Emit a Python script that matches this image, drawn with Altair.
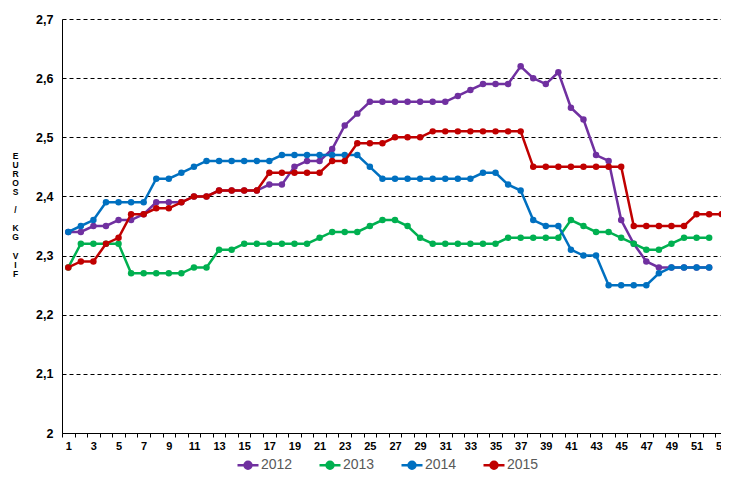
import altair as alt
import pandas as pd

weeks = list(range(1, 54))
years = ["2012", "2013", "2014", "2015"]
colors = ["#7030A0", "#00B050", "#0070C0", "#C00000"]

v2012 = [2.34, 2.34, 2.35, 2.35, 2.36, 2.36, 2.37, 2.39, 2.39, 2.39,
         2.40, 2.40, 2.41, 2.41, 2.41, 2.41, 2.42, 2.42, 2.45, 2.46,
         2.46, 2.48, 2.52, 2.54, 2.56, 2.56, 2.56, 2.56, 2.56, 2.56,
         2.56, 2.57, 2.58, 2.59, 2.59, 2.59, 2.62, 2.60, 2.59, 2.61,
         2.55, 2.53, 2.47, 2.46, 2.36, 2.32, 2.29, 2.28, 2.28, 2.28,
         2.28, 2.28, None]
v2013 = [2.28, 2.32, 2.32, 2.32, 2.32, 2.27, 2.27, 2.27, 2.27, 2.27,
         2.28, 2.28, 2.31, 2.31, 2.32, 2.32, 2.32, 2.32, 2.32, 2.32,
         2.33, 2.34, 2.34, 2.34, 2.35, 2.36, 2.36, 2.35, 2.33, 2.32,
         2.32, 2.32, 2.32, 2.32, 2.32, 2.33, 2.33, 2.33, 2.33, 2.33,
         2.36, 2.35, 2.34, 2.34, 2.33, 2.32, 2.31, 2.31, 2.32, 2.33,
         2.33, 2.33, None]
v2014 = [2.34, 2.35, 2.36, 2.39, 2.39, 2.39, 2.39, 2.43, 2.43, 2.44,
         2.45, 2.46, 2.46, 2.46, 2.46, 2.46, 2.46, 2.47, 2.47, 2.47,
         2.47, 2.47, 2.47, 2.47, 2.45, 2.43, 2.43, 2.43, 2.43, 2.43,
         2.43, 2.43, 2.43, 2.44, 2.44, 2.42, 2.41, 2.36, 2.35, 2.35,
         2.31, 2.30, 2.30, 2.25, 2.25, 2.25, 2.25, 2.27, 2.28, 2.28,
         2.28, 2.28, None]
v2015 = [2.28, 2.29, 2.29, 2.32, 2.33, 2.37, 2.37, 2.38, 2.38, 2.39,
         2.40, 2.40, 2.41, 2.41, 2.41, 2.41, 2.44, 2.44, 2.44, 2.44,
         2.44, 2.46, 2.46, 2.49, 2.49, 2.49, 2.50, 2.50, 2.50, 2.51,
         2.51, 2.51, 2.51, 2.51, 2.51, 2.51, 2.51, 2.45, 2.45, 2.45,
         2.45, 2.45, 2.45, 2.45, 2.45, 2.35, 2.35, 2.35, 2.35, 2.35,
         2.37, 2.37, 2.37]

y_ticks = [2.0, 2.1, 2.2, 2.3, 2.4, 2.5, 2.6, 2.7]
ZW = "\u200b"
y_title = ["E", "U", "R", "O", "S", ZW, "/", ZW, "K", "G", ZW, "V", "I", "F"]

rows = []
for yr, vals in zip(years, [v2012, v2013, v2014, v2015]):
    for w, v in zip(weeks, vals):
        if v is not None:
            rows.append({"week": w, "year": yr, "value": v})
df = pd.DataFrame(rows)

FONT = "Liberation Sans"
legend_symbol = "M-1,0H1M-0.33,0A0.33,0.33 0 1,1 0.33,0A0.33,0.33 0 1,1 -0.33,0Z"

x_enc = alt.X(
    "week:O",
    scale=alt.Scale(type="band", paddingInner=0, paddingOuter=0, domain=weeks, range=[0, 666]),
    axis=alt.Axis(
        title=None, labelAngle=0, labelExpr="datum.value % 2 == 1 ? datum.label : ''",
        tickBand="extent", ticks=True, tickSize=4, tickColor="black",
        domainColor="black", domainWidth=1, grid=False, labelOverlap=False,
        labelFont=FONT, labelFontWeight="bold", labelFontSize=11, labelColor="black",
        labelPadding=3,
    ),
)
y_enc = alt.Y(
    "value:Q",
    scale=alt.Scale(domain=[2.0, 2.7], nice=False, zero=False),
    axis=alt.Axis(
        values=y_ticks,
        labelExpr="replace(format(datum.value, '.1~f'), '.', ',')",
        grid=True, gridDash=[4, 3], gridColor="black", gridWidth=1,
        ticks=False, domainColor="black", domainWidth=1,
        labelFont=FONT, labelFontWeight="bold", labelFontSize=12.5, labelColor="black",
        labelPadding=9,
        title=y_title, titleAngle=0, titleX=-47, titleY=132, titleAlign="center",
        titleBaseline="top", titleFont=FONT, titleFontSize=8.5, titleFontWeight="bold",
        titleLineHeight=9.1, titleColor="black",
    ),
)
color_enc = alt.Color(
    "year:N",
    scale=alt.Scale(domain=years, range=colors),
    legend=alt.Legend(
        title=None, orient="none", legendX=174, legendY=434, direction="horizontal",
        columns=4, symbolType=legend_symbol, symbolSize=441, symbolStrokeWidth=2.5,
        labelFont=FONT, labelFontSize=14, labelColor="#595959", labelOffset=1,
        columnPadding=21,
    ),
)

layers = []
for yr in years:
    b = alt.Chart(df).transform_filter(alt.datum.year == yr).encode(x=x_enc, y=y_enc, color=color_enc)
    layers.append(b.mark_point(filled=True, size=42, opacity=1))
    layers.append(b.mark_line(strokeWidth=2.5))

chart = alt.layer(*layers).properties(
    width=659, height=414,
    autosize=alt.AutoSizeParams(type="none"),
    padding={"left": 54, "top": 11, "right": 0, "bottom": 39},
).configure_view(stroke=None)

chart.save("out.html", embed_options={"renderer": "svg", "actions": False})
